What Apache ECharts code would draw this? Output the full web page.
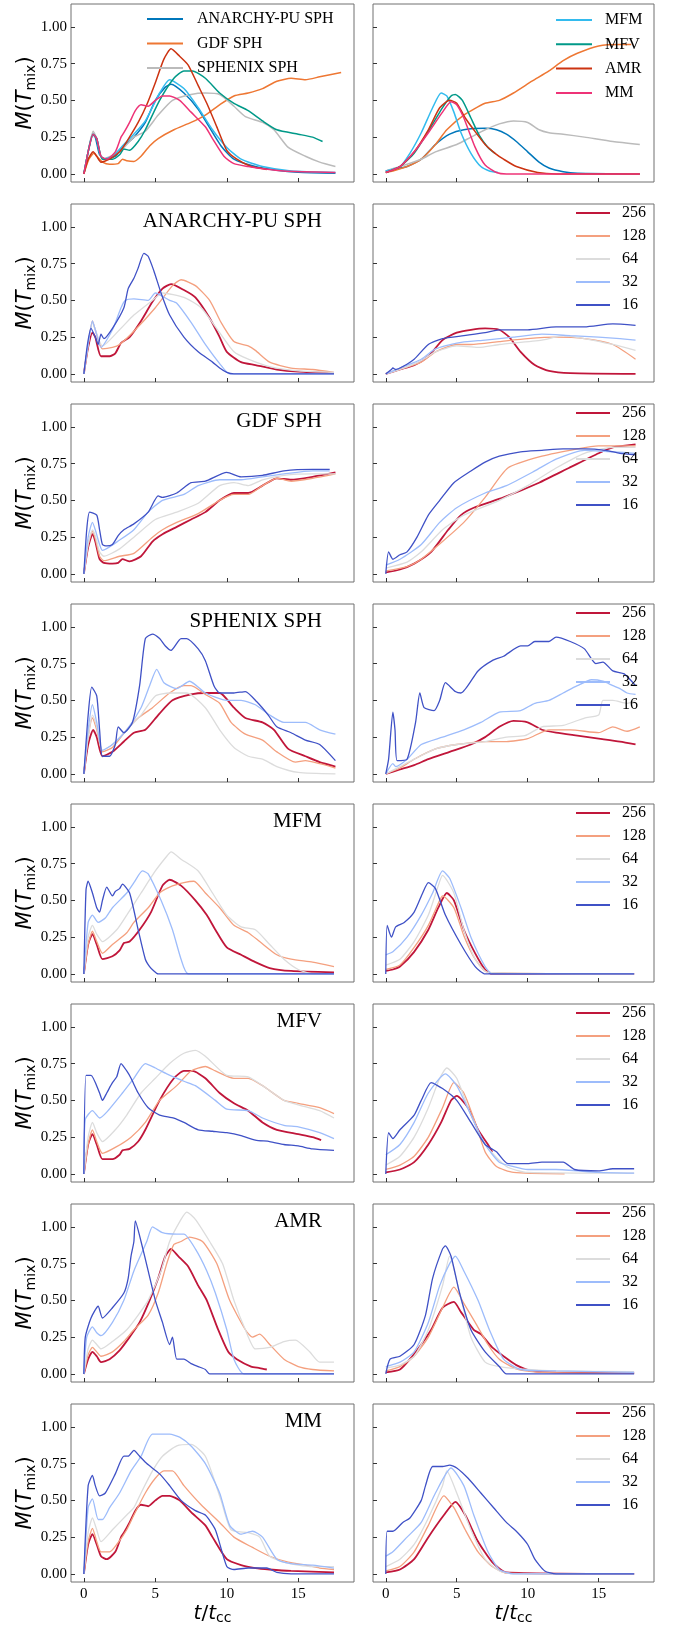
<!DOCTYPE html>
<html>
<head>
<meta charset="utf-8">
<title>M(T_mix) vs t/t_cc</title>
<script src="https://cdn.jsdelivr.net/npm/echarts@6.0.0/dist/echarts.min.js"></script>
<style>
    html, body { margin: 0; padding: 0; background: #fff; }
    #main { width: 676px; height: 1627px; }
</style>
</head>
<body>
<div id="main"></div>
<script>
// categories
const RES = ['256', '128', '64', '32', '16'];
const RES_COLORS = ['#c0163a', '#f4a07f', '#dcdcdc', '#9dbcfb', '#3f51c6'];
const CODES = ['ANARCHY-PU SPH', 'GDF SPH', 'SPHENIX SPH', 'MFM', 'MFV', 'AMR', 'MM'];
const CODE_COLORS = ['#0077bb', '#ee7733', '#bbbbbb', '#33bbee', '#009988', '#cc3311', '#ee3377'];
const X_TICKS = [0, 5, 10, 15];
const Y_TICKS = [0, 0.25, 0.5, 0.75, 1.0];

// row 1: all codes, order as CODES
const ALL_L = [
    [[0,0],[0.3,0.15],[0.6,0.27],[0.8,0.25],[1.1,0.13],[1.5,0.1],[2.2,0.12],[2.8,0.19],[3.5,0.25],[4.3,0.35],[5,0.5],[5.7,0.59],[6.1,0.61],[7,0.55],[8,0.44],[8.7,0.33],[9.6,0.19],[10.5,0.1],[12,0.05],[13.5,0.025],[15,0.012],[17.6,0.005]],
    [[0,0],[0.35,0.1],[0.7,0.14],[1.0,0.11],[1.3,0.08],[1.8,0.065],[2.4,0.07],[2.7,0.1],[3.0,0.09],[3.5,0.085],[4,0.12],[4.6,0.19],[5.2,0.24],[6.3,0.3],[7.5,0.35],[8.5,0.4],[9.5,0.47],[10.5,0.53],[11.5,0.55],[12.5,0.58],[13.5,0.63],[14.5,0.65],[15.5,0.64],[16.5,0.66],[18,0.69]],
    [[0,0],[0.3,0.15],[0.65,0.29],[0.9,0.24],[1.3,0.1],[2.5,0.15],[3.5,0.25],[4.3,0.29],[5.2,0.4],[6.2,0.5],[7.5,0.54],[8.5,0.55],[9.5,0.54],[10.5,0.46],[11.3,0.39],[12.5,0.35],[13.3,0.3],[14.3,0.18],[15.5,0.12],[16.5,0.08],[17.6,0.05]],
    [[0,0],[0.3,0.15],[0.65,0.27],[0.9,0.24],[1.3,0.1],[2,0.12],[2.8,0.2],[3.5,0.27],[4.3,0.36],[5.3,0.55],[6,0.64],[7,0.58],[8,0.45],[9,0.3],[10,0.18],[11,0.1],[12.5,0.05],[14.5,0.02],[17.6,0.01]],
    [[0,0],[0.3,0.15],[0.65,0.27],[0.9,0.24],[1.3,0.1],[2,0.1],[2.5,0.13],[2.8,0.17],[3.2,0.16],[3.8,0.22],[4.3,0.3],[5.3,0.5],[6.3,0.65],[7.0,0.7],[7.6,0.7],[8.5,0.65],[9.5,0.55],[10.5,0.48],[11.5,0.43],[12.5,0.36],[13.5,0.3],[15,0.27],[16,0.25],[16.7,0.22]],
    [[0,0],[0.3,0.1],[0.65,0.15],[0.9,0.12],[1.2,0.08],[1.8,0.1],[2.5,0.15],[3.0,0.22],[3.8,0.35],[4.4,0.47],[5.0,0.62],[5.6,0.78],[6.1,0.85],[6.7,0.8],[7.3,0.74],[8.0,0.6],[8.6,0.48],[9.3,0.32],[10.0,0.16],[10.7,0.1],[11.7,0.05],[12.3,0.04],[12.8,0.03]],
    [[0,0],[0.3,0.15],[0.65,0.27],[0.9,0.24],[1.2,0.12],[1.6,0.1],[2.2,0.15],[2.6,0.25],[2.8,0.28],[3.2,0.35],[3.6,0.43],[4.0,0.47],[4.5,0.46],[5,0.5],[5.5,0.53],[6.0,0.53],[6.7,0.5],[7.5,0.42],[8.5,0.32],[9.0,0.24],[9.8,0.12],[10.5,0.07],[11.5,0.05],[12.5,0.035],[14,0.02],[17.6,0.01]]
];
const ALL_R = [
    [[0,0.02],[0.5,0.03],[1.5,0.05],[2.5,0.1],[3.5,0.2],[4.5,0.27],[5.5,0.3],[7,0.31],[7.8,0.3],[8.5,0.27],[9.2,0.22],[10,0.15],[10.8,0.08],[11.5,0.04],[12.5,0.015],[13.5,0.005],[17.9,0.0]],
    [[0,0.01],[0.5,0.02],[1.5,0.05],[2.5,0.1],[3.5,0.2],[4.3,0.3],[5.5,0.4],[7,0.48],[8,0.5],[9,0.55],[10.3,0.63],[11.5,0.7],[12.5,0.77],[13.5,0.82],[15,0.87],[16.5,0.88],[17.3,0.88]],
    [[0,0.02],[1,0.05],[2.5,0.1],[3.5,0.15],[5,0.2],[6,0.25],[7,0.3],[8,0.34],[9,0.36],[10,0.35],[10.8,0.3],[11.5,0.28],[12.5,0.27],[14,0.25],[16,0.22],[17.9,0.2]],
    [[0,0.02],[1,0.05],[1.7,0.14],[2.5,0.28],[3.3,0.45],[3.9,0.55],[4.3,0.53],[4.8,0.42],[5.3,0.28],[6,0.14],[6.7,0.05],[7.3,0.02],[7.9,0.01]],
    [[0,0.01],[1,0.05],[2,0.14],[3,0.29],[4,0.45],[4.6,0.53],[4.9,0.54],[5.4,0.5],[6.0,0.38],[6.6,0.26],[7.2,0.18],[7.7,0.14]],
    [[0,0.01],[1,0.05],[2,0.15],[3,0.3],[3.8,0.45],[4.5,0.5],[5.0,0.48],[5.6,0.38],[6.2,0.3],[7.0,0.2],[7.7,0.14],[8.3,0.1],[9.2,0.05],[10.7,0.01],[12,0.0],[17.9,0.0]],
    [[0,0.01],[1,0.05],[2,0.15],[3,0.28],[4,0.42],[4.6,0.49],[5,0.47],[5.5,0.38],[6.3,0.18],[7,0.06],[7.8,0.01],[8.5,0.0],[17.9,0.0]]
];

// rows 2-8: resolutions, order as RES
const ANARCHY_L = [
    [[0,0],[0.3,0.18],[0.6,0.28],[0.8,0.25],[1.2,0.12],[1.8,0.12],[2.2,0.14],[2.6,0.21],[3.2,0.25],[4,0.36],[4.8,0.49],[5.5,0.58],[6.1,0.61],[7,0.57],[7.8,0.52],[8.8,0.38],[9.5,0.25],[10,0.15],[11,0.08],[12,0.06],[13.5,0.03],[15,0.015],[17.5,0.005]],
    [[0,0],[0.3,0.2],[0.6,0.36],[0.8,0.3],[1.3,0.17],[2,0.18],[2.5,0.2],[3.5,0.29],[5,0.45],[6.2,0.6],[6.8,0.64],[7.8,0.6],[8.8,0.5],[9.6,0.35],[10.5,0.22],[11.5,0.19],[12,0.16],[13,0.08],[14.5,0.04],[16,0.03],[17.5,0.01]],
    [[0,0],[0.3,0.2],[0.6,0.35],[0.8,0.3],[1.3,0.19],[2.5,0.3],[3.5,0.4],[4.8,0.5],[5.5,0.55],[7,0.52],[8.2,0.45],[9.5,0.28],[10.5,0.15],[11.5,0.1],[13,0.05],[15,0.02],[17.5,0.01]],
    [[0,0],[0.3,0.2],[0.6,0.36],[0.8,0.3],[1.2,0.18],[2,0.3],[2.6,0.45],[2.9,0.5],[3.5,0.51],[4.5,0.5],[5,0.55],[6,0.5],[6.5,0.48],[7.5,0.35],[8.5,0.2],[9.5,0.07],[10.2,0.0],[17.5,0.0]],
    [[0,0],[0.25,0.2],[0.5,0.31],[0.8,0.25],[1.0,0.2],[1.2,0.27],[1.4,0.24],[2,0.31],[2.8,0.45],[3.1,0.58],[3.5,0.65],[3.8,0.72],[4.2,0.82],[4.5,0.8],[4.9,0.7],[5.4,0.55],[6.0,0.4],[7.0,0.25],[8,0.15],[9,0.08],[9.5,0.04],[10,0.01],[10.5,0.0],[17.5,0.0]]
];
const ANARCHY_R = [
    [[0,0],[1,0.03],[2,0.06],[3,0.12],[4,0.23],[5,0.28],[6,0.3],[7,0.31],[8,0.3],[8.7,0.25],[9.5,0.15],[10.5,0.06],[11.5,0.02],[13,0.005],[17.6,0.0]],
    [[0,0],[1,0.03],[2.5,0.08],[3.5,0.15],[5,0.2],[6,0.2],[8,0.22],[10,0.24],[12,0.25],[14,0.24],[16,0.2],[17.6,0.1]],
    [[0,0],[1,0.03],[2.5,0.09],[3.5,0.15],[5,0.19],[6.5,0.18],[8,0.2],[11,0.23],[12.5,0.26],[14,0.24],[16,0.2],[17.6,0.16]],
    [[0,0],[1,0.04],[2.5,0.1],[3.5,0.17],[5,0.21],[7,0.23],[9,0.25],[11,0.27],[13,0.26],[15,0.25],[16.5,0.24],[17.6,0.23]],
    [[0,0],[0.4,0.03],[0.5,0.04],[0.7,0.03],[1.2,0.05],[2,0.1],[3,0.2],[4,0.24],[5.5,0.26],[7,0.28],[8,0.3],[10,0.3],[12,0.32],[14,0.32],[16,0.34],[17.6,0.33]]
];
const GDF_L = [
    [[0,0],[0.3,0.18],[0.6,0.27],[0.8,0.22],[1.1,0.1],[1.4,0.075],[2,0.07],[2.4,0.075],[2.7,0.1],[3.2,0.085],[4,0.12],[4.8,0.22],[5.5,0.27],[6.5,0.32],[7.5,0.37],[8.5,0.42],[9.5,0.5],[10.5,0.55],[11.5,0.55],[12.5,0.6],[13.5,0.65],[14.5,0.64],[16,0.66],[17.6,0.69]],
    [[0,0],[0.3,0.2],[0.6,0.29],[0.8,0.24],[1.1,0.12],[1.4,0.09],[2.5,0.12],[3.5,0.14],[4.8,0.25],[5.5,0.3],[6.5,0.35],[8,0.41],[9.5,0.5],[10.5,0.54],[11.5,0.54],[12.5,0.6],[13.5,0.65],[14.5,0.63],[16,0.65],[17.6,0.68]],
    [[0,0],[0.3,0.2],[0.6,0.3],[0.8,0.26],[1.1,0.15],[1.4,0.12],[2.5,0.17],[3.5,0.25],[5,0.37],[6.5,0.42],[8,0.48],[9.5,0.6],[10.5,0.62],[11.5,0.6],[12.5,0.64],[14,0.67],[16,0.68],[17.6,0.68]],
    [[0,0],[0.3,0.25],[0.6,0.35],[0.8,0.3],[1.1,0.2],[1.3,0.16],[2.5,0.23],[3.5,0.3],[4.5,0.42],[5.5,0.5],[7,0.54],[8,0.6],[9.5,0.64],[11,0.64],[12.5,0.66],[14,0.68],[16,0.7],[17.2,0.7]],
    [[0,0],[0.2,0.3],[0.4,0.42],[0.9,0.4],[1.1,0.3],[1.3,0.2],[1.6,0.19],[2.0,0.2],[2.4,0.26],[2.8,0.3],[3.5,0.34],[4.5,0.42],[5.2,0.53],[5.5,0.52],[6.5,0.55],[7.5,0.62],[8.5,0.63],[10,0.69],[11,0.66],[12.5,0.67],[14,0.7],[16,0.71],[17.2,0.71]]
];
const GDF_R = [
    [[0,0.01],[1,0.03],[2,0.07],[3.2,0.15],[4.4,0.3],[5.3,0.4],[6.2,0.45],[8.3,0.52],[10.8,0.62],[12.9,0.72],[15,0.82],[16,0.86],[17.6,0.88]],
    [[0,0.02],[1.5,0.05],[2.5,0.1],[4,0.22],[5.5,0.35],[7,0.52],[8.6,0.72],[11,0.8],[13.5,0.85],[15,0.87],[17.6,0.87]],
    [[0,0.04],[1.5,0.08],[2.5,0.15],[4,0.3],[5.5,0.4],[8,0.5],[10,0.6],[12,0.72],[14,0.82],[16,0.86],[17.6,0.86]],
    [[0,0.06],[1,0.1],[2.5,0.2],[3.8,0.35],[5,0.45],[7,0.55],[8.5,0.6],[10.5,0.7],[12,0.78],[14,0.84],[16,0.83],[17.6,0.82]],
    [[0,0.0],[0.2,0.15],[0.5,0.1],[1,0.13],[1.5,0.15],[2.2,0.25],[3,0.4],[3.8,0.5],[4.8,0.62],[6,0.7],[7,0.76],[8,0.8],[9.5,0.83],[11,0.84],[12.5,0.85],[14,0.85],[15.5,0.84],[16.5,0.82],[17.6,0.81]]
];
const SPHENIX_L = [
    [[0,0],[0.3,0.2],[0.65,0.3],[0.9,0.25],[1.3,0.12],[2,0.15],[2.8,0.22],[3.5,0.28],[4.3,0.3],[5.2,0.4],[6.2,0.5],[7.5,0.54],[8.5,0.55],[9.5,0.55],[10.5,0.45],[11.3,0.38],[12.5,0.35],[13.3,0.3],[14.3,0.17],[15.5,0.12],[16.5,0.08],[17.6,0.05]],
    [[0,0],[0.3,0.25],[0.6,0.38],[0.9,0.3],[1.3,0.15],[2,0.18],[3,0.3],[3.8,0.38],[4.8,0.45],[6,0.55],[7,0.6],[7.5,0.6],[8.5,0.54],[9.5,0.48],[10.3,0.35],[11.3,0.27],[12.5,0.23],[13.5,0.15],[14.8,0.08],[15.5,0.09],[16.5,0.07],[17.6,0.04]],
    [[0,0],[0.3,0.25],[0.6,0.4],[0.9,0.32],[1.3,0.16],[2,0.2],[3,0.3],[4,0.4],[5,0.53],[6,0.55],[7.2,0.55],[8.5,0.45],[9.5,0.3],[10.5,0.18],[11.5,0.12],[12.5,0.1],[13.5,0.05],[15,0.01],[17.6,0.0]],
    [[0,0],[0.3,0.3],[0.6,0.47],[0.9,0.35],[1.3,0.16],[2,0.2],[3,0.3],[4,0.45],[4.6,0.6],[5.1,0.71],[5.6,0.62],[6.5,0.58],[7.4,0.63],[8.5,0.55],[10,0.5],[11,0.5],[12,0.47],[13,0.4],[14,0.35],[15.5,0.35],[16.5,0.3],[17.6,0.27]],
    [[0,0],[0.3,0.4],[0.55,0.59],[0.9,0.53],[1.1,0.3],[1.3,0.12],[1.8,0.12],[2.2,0.2],[2.4,0.32],[2.8,0.28],[3.4,0.35],[3.9,0.6],[4.3,0.92],[4.8,0.95],[5.3,0.92],[5.7,0.87],[6.1,0.84],[6.8,0.92],[7.2,0.92],[8,0.85],[8.5,0.77],[9.1,0.6],[9.5,0.55],[10.5,0.55],[11.3,0.56],[12.1,0.49],[12.9,0.4],[13.5,0.32],[14.5,0.28],[15.5,0.23],[16.5,0.2],[17.6,0.09]]
];
const SPHENIX_R = [
    [[0,0],[1,0.03],[2,0.06],[3,0.1],[4.5,0.15],[6,0.2],[7,0.25],[8,0.32],[9,0.36],[10,0.35],[11,0.3],[12,0.28],[13.5,0.26],[15,0.24],[16.5,0.22],[17.6,0.2]],
    [[0,0],[1,0.04],[2,0.1],[3.5,0.17],[5,0.2],[7,0.22],[8.5,0.22],[10,0.24],[11.5,0.3],[13,0.3],[15,0.28],[16,0.32],[17,0.29],[17.9,0.32]],
    [[0,0],[1,0.05],[2,0.1],[3.5,0.17],[5,0.2],[7,0.22],[8.5,0.25],[9.8,0.26],[11,0.32],[12.5,0.33],[14,0.38],[15,0.4],[15.3,0.5],[16,0.5],[17,0.48],[17.6,0.5]],
    [[0,0],[0.5,0.07],[0.7,0.05],[1.5,0.1],[2.5,0.2],[4,0.25],[5.5,0.3],[6.7,0.35],[8,0.42],[9.5,0.43],[10.5,0.48],[11.5,0.5],[12.5,0.55],[13.5,0.6],[14.5,0.64],[15.3,0.63],[16,0.6],[16.5,0.58],[17,0.55],[17.6,0.54]],
    [[0,0],[0.2,0.1],[0.5,0.42],[0.65,0.3],[0.8,0.09],[1.5,0.1],[2.1,0.35],[2.4,0.55],[2.7,0.45],[3.4,0.43],[3.8,0.5],[4.2,0.62],[4.9,0.56],[5.3,0.55],[6.5,0.7],[7.5,0.77],[8.3,0.8],[9.5,0.87],[10,0.87],[10.5,0.9],[11.5,0.9],[12,0.93],[13,0.9],[14,0.85],[14.8,0.75],[15.3,0.76],[16,0.7],[16.8,0.68],[17.6,0.6]]
];
const MFM_L = [
    [[0,0],[0.3,0.2],[0.6,0.27],[0.9,0.2],[1.3,0.1],[2,0.12],[2.5,0.16],[2.8,0.21],[3.2,0.22],[3.9,0.3],[4.7,0.42],[5.5,0.6],[6,0.64],[6.8,0.6],[7.8,0.5],[8.6,0.4],[9.2,0.3],[10,0.18],[11,0.13],[12,0.08],[13,0.04],[14.5,0.02],[17.5,0.01]],
    [[0,0],[0.3,0.2],[0.6,0.29],[0.9,0.22],[1.3,0.14],[2,0.2],[3,0.28],[3.5,0.35],[4.5,0.45],[5.3,0.55],[6,0.59],[7,0.62],[7.7,0.63],[8.5,0.55],[9.5,0.45],[10.5,0.33],[11.5,0.28],[12.3,0.22],[13.5,0.13],[14.5,0.1],[16,0.08],[17.5,0.05]],
    [[0,0],[0.3,0.25],[0.6,0.33],[0.9,0.27],[1.3,0.22],[2.3,0.3],[3,0.4],[4,0.55],[5,0.7],[5.8,0.8],[6.1,0.83],[6.8,0.78],[8,0.7],[9,0.55],[10,0.4],[11,0.32],[12,0.3],[13,0.2],[14,0.1],[15,0.03],[16,0.0],[17.5,0.0]],
    [[0,0],[0.3,0.35],[0.6,0.4],[1,0.35],[1.5,0.38],[2,0.45],[3,0.55],[3.5,0.62],[4.1,0.7],[4.5,0.68],[5.4,0.5],[6.2,0.3],[6.8,0.1],[7.3,0.0],[17.5,0.0]],
    [[0,0],[0.15,0.57],[0.3,0.63],[0.6,0.55],[0.9,0.45],[1.1,0.42],[1.3,0.5],[1.6,0.59],[2.0,0.53],[2.2,0.56],[2.5,0.58],[2.7,0.61],[3.2,0.55],[3.8,0.3],[4.3,0.1],[4.6,0.05],[4.9,0.02],[5.2,0.0],[17.5,0.0]]
];
const MFM_R = [
    [[0,0.02],[0.5,0.03],[1,0.05],[2,0.15],[3,0.3],[3.7,0.45],[4.3,0.55],[4.8,0.5],[5.5,0.3],[6.3,0.14],[7,0.03],[7.5,0.0],[17.5,0.0]],
    [[0,0.03],[1,0.06],[2,0.18],[3,0.33],[3.8,0.5],[4.0,0.53],[4.8,0.45],[5.5,0.26],[6.3,0.1],[7.2,0.01],[17.5,0.0]],
    [[0,0.06],[1,0.1],[2,0.22],[3,0.4],[3.7,0.6],[4.0,0.67],[4.8,0.55],[5.5,0.3],[6.3,0.1],[7.2,0.01],[17.5,0.0]],
    [[0,0.13],[0.5,0.15],[1.5,0.25],[2.5,0.4],[3.3,0.55],[4.0,0.7],[4.5,0.65],[5.3,0.45],[6,0.25],[7,0.05],[7.5,0.0],[17.5,0.0]],
    [[0,0.0],[0.1,0.33],[0.4,0.25],[0.7,0.32],[1.3,0.35],[2,0.42],[2.6,0.55],[3,0.62],[3.5,0.58],[4.2,0.4],[5.3,0.2],[6.3,0.05],[7,0.0],[17.5,0.0]]
];
const MFV_L = [
    [[0,0],[0.3,0.2],[0.6,0.27],[0.9,0.2],[1.3,0.1],[2,0.1],[2.5,0.13],[2.7,0.16],[3.2,0.17],[3.8,0.22],[4.3,0.3],[5.3,0.5],[6.3,0.65],[7,0.7],[7.6,0.7],[8.5,0.65],[9.5,0.55],[10.5,0.48],[11.5,0.43],[12.5,0.35],[13.5,0.3],[15,0.27],[16,0.25],[16.6,0.23]],
    [[0,0],[0.3,0.2],[0.6,0.3],[0.9,0.22],[1.3,0.14],[2.2,0.18],[3.3,0.25],[4.3,0.35],[5.3,0.5],[6.5,0.6],[7.5,0.7],[8.5,0.73],[9.2,0.7],[10.5,0.65],[11.5,0.65],[12.5,0.6],[14,0.5],[15,0.48],[16.5,0.45],[17.5,0.41]],
    [[0,0],[0.3,0.25],[0.6,0.35],[0.9,0.28],[1.3,0.22],[2.2,0.3],[3,0.4],[4,0.55],[5,0.65],[6,0.75],[7,0.82],[7.8,0.84],[8.5,0.8],[10,0.67],[11.5,0.66],[12.5,0.6],[14,0.5],[15,0.47],[16.5,0.43],[17.5,0.38]],
    [[0,0],[0.1,0.37],[0.6,0.43],[1.1,0.38],[1.6,0.42],[2.7,0.55],[3.5,0.65],[4.3,0.75],[5,0.72],[5.8,0.68],[7,0.63],[7.8,0.6],[9.2,0.5],[10,0.44],[11.5,0.43],[12.5,0.38],[14,0.33],[15,0.32],[16.5,0.28],[17.5,0.24]],
    [[0,0],[0.15,0.67],[0.5,0.67],[1.1,0.55],[1.3,0.5],[1.6,0.55],[2,0.62],[2.3,0.66],[2.6,0.75],[3.0,0.7],[3.3,0.65],[3.8,0.55],[4.5,0.45],[5.3,0.4],[6.3,0.38],[7,0.35],[8,0.3],[9,0.29],[10,0.28],[11,0.26],[12,0.23],[13,0.22],[14,0.2],[15,0.19],[16,0.17],[17.5,0.16]]
];
const MFV_R = [
    [[0,0.01],[1,0.03],[2,0.08],[3,0.2],[3.9,0.35],[4.6,0.5],[5.0,0.53],[5.8,0.45],[6.5,0.3],[7.2,0.2],[7.5,0.15]],
    [[0,0.03],[1,0.06],[2,0.12],[3,0.25],[4,0.45],[4.8,0.62],[5.5,0.55],[6.3,0.35],[7,0.15],[7.8,0.05],[9,0.01],[12.6,0.0]],
    [[0,0.06],[1,0.12],[2,0.25],[3,0.45],[3.8,0.65],[4.3,0.72],[5,0.65],[6,0.4],[7,0.2],[8.5,0.05],[10,0.01],[17.5,0.005]],
    [[0,0.13],[1,0.2],[2,0.35],[3,0.55],[4.2,0.68],[5.0,0.6],[6,0.4],[7,0.2],[8,0.08],[9,0.05],[10,0.03],[12,0.03],[15,0.01],[17.5,0.005]],
    [[0,0.0],[0.2,0.28],[0.5,0.24],[1,0.3],[2,0.4],[2.5,0.5],[3.2,0.62],[4.0,0.58],[5.0,0.5],[6,0.35],[7,0.2],[7.8,0.15],[8.6,0.07],[10,0.07],[11,0.08],[12.5,0.08],[13.3,0.03],[15,0.02],[16,0.035],[17.5,0.035]]
];
const AMR_L = [
    [[0,0],[0.3,0.1],[0.6,0.15],[0.9,0.12],[1.2,0.08],[1.8,0.1],[2.5,0.16],[3.2,0.25],[3.9,0.35],[4.6,0.5],[5.2,0.65],[5.7,0.8],[6.1,0.85],[6.6,0.8],[7.3,0.73],[8,0.6],[8.6,0.5],[9.4,0.3],[10.1,0.15],[10.7,0.1],[11.7,0.05],[12.3,0.04],[12.8,0.03]],
    [[0,0],[0.3,0.13],[0.6,0.18],[0.9,0.15],[1.2,0.12],[2,0.15],[2.8,0.22],[3.5,0.3],[4.5,0.4],[5.2,0.55],[5.8,0.75],[6.3,0.88],[6.8,0.9],[7.4,0.93],[8.3,0.9],[9.3,0.75],[10.2,0.5],[11.3,0.3],[11.8,0.25],[12.3,0.27],[13,0.2],[14,0.1],[15,0.05],[16,0.03],[17.5,0.02]],
    [[0,0],[0.3,0.17],[0.6,0.23],[0.9,0.2],[1.2,0.17],[2,0.22],[3,0.3],[3.8,0.4],[4.5,0.5],[5.4,0.7],[6,0.9],[6.8,1.05],[7.2,1.1],[7.8,1.05],[8.8,0.9],[9.7,0.75],[10.5,0.5],[11.3,0.3],[12,0.17],[13,0.18],[14,0.22],[14.8,0.23],[15.8,0.15],[16.5,0.08],[17.5,0.08]],
    [[0,0],[0.2,0.25],[0.6,0.32],[0.9,0.28],[1.2,0.26],[2,0.35],[2.8,0.5],[3.5,0.7],[4.4,0.9],[4.8,1.0],[5.5,0.96],[6.5,0.95],[7,0.95],[7.8,0.85],[8.6,0.7],[9.2,0.55],[10,0.3],[10.5,0.1],[11.2,0.0],[17.5,0.0]],
    [[0,0],[0.1,0.25],[0.5,0.38],[1.0,0.46],[1.3,0.38],[2.0,0.45],[2.8,0.55],[3.1,0.65],[3.3,0.8],[3.5,0.9],[3.6,1.04],[4.0,0.9],[4.5,0.7],[5.0,0.5],[5.5,0.35],[6.0,0.2],[6.2,0.25],[6.5,0.1],[7,0.1],[7.5,0.07],[8,0.05],[8.5,0.03],[8.8,0.0],[17.5,0.0]]
];
const AMR_R = [
    [[0,0.01],[1,0.03],[1.7,0.1],[2.5,0.2],[3.2,0.3],[4.0,0.45],[4.8,0.49],[5.3,0.42],[6.2,0.3],[6.7,0.27],[7.5,0.18],[8.3,0.12],[9.2,0.06],[10.3,0.02],[12,0.01],[17.5,0.005]],
    [[0,0.02],[1,0.05],[2,0.12],[3,0.25],[4,0.45],[4.8,0.59],[5.5,0.48],[6.3,0.35],[7.2,0.2],[8,0.1],[9.3,0.03],[11,0.01],[17.5,0.005]],
    [[0,0.04],[1,0.06],[2,0.12],[3,0.3],[4,0.6],[4.5,0.8],[5.2,0.55],[6,0.25],[7,0.08],[8,0.05],[10,0.03],[12,0.02],[17.5,0.015]],
    [[0,0.05],[1,0.08],[2,0.15],[3,0.35],[3.8,0.6],[4.5,0.75],[4.9,0.8],[5.5,0.7],[6.5,0.5],[7.3,0.3],[8.3,0.1],[9.5,0.03],[12,0.02],[17.5,0.01]],
    [[0,0.0],[0.3,0.1],[1,0.12],[2,0.2],[2.8,0.4],[3.3,0.65],[4.0,0.85],[4.2,0.87],[4.6,0.8],[5.2,0.55],[6,0.3],[7,0.15],[8,0.05],[8.5,0.0],[17.5,0.0]]
];
const MM_L = [
    [[0,0],[0.3,0.2],[0.6,0.27],[0.9,0.2],[1.2,0.12],[1.6,0.1],[2.2,0.15],[2.6,0.25],[2.8,0.28],[3.2,0.35],[3.6,0.43],[4,0.47],[4.5,0.46],[5,0.5],[5.5,0.53],[6.0,0.53],[6.7,0.5],[7.5,0.42],[8.5,0.33],[9,0.25],[10,0.1],[11,0.06],[12,0.04],[13,0.03],[14.5,0.02],[17.5,0.01]],
    [[0,0],[0.3,0.22],[0.6,0.31],[0.9,0.22],[1.2,0.15],[1.8,0.15],[2.3,0.2],[3,0.3],[3.5,0.4],[4.3,0.55],[5.0,0.65],[5.6,0.7],[6.2,0.7],[7,0.6],[8.2,0.47],[9.5,0.35],[10.5,0.25],[11.8,0.18],[13,0.12],[14.3,0.08],[15.5,0.06],[16.5,0.04],[17.5,0.03]],
    [[0,0],[0.3,0.28],[0.6,0.38],[0.9,0.3],[1.2,0.22],[2,0.3],[3,0.4],[3.5,0.45],[4.0,0.55],[4.8,0.7],[5.5,0.8],[6.5,0.87],[7.5,0.88],[8.5,0.8],[9.6,0.5],[10.3,0.3],[11.5,0.28],[12.3,0.25],[13,0.12],[14,0.08],[15,0.06],[16,0.05],[17.5,0.05]],
    [[0,0],[0.3,0.45],[0.6,0.51],[1.0,0.37],[1.3,0.37],[1.8,0.45],[2.5,0.55],[3.3,0.7],[4,0.8],[4.8,0.95],[6,0.95],[6.7,0.93],[7.5,0.87],[8.5,0.75],[9.5,0.55],[10.2,0.33],[11.0,0.27],[11.8,0.29],[12.5,0.25],[13.5,0.1],[14.5,0.07],[16,0.06],[17.5,0.04]],
    [[0,0],[0.3,0.6],[0.6,0.67],[0.8,0.6],[1.1,0.53],[1.5,0.55],[2.2,0.68],[2.8,0.8],[3.1,0.8],[3.5,0.84],[3.9,0.8],[4.4,0.75],[5.3,0.68],[6.0,0.6],[6.8,0.5],[7.8,0.43],[8.5,0.4],[9.2,0.3],[10.0,0.05],[10.5,0.03],[11.5,0.04],[12.8,0.04],[13.5,0.01],[14.5,0.0],[17.5,0.0]]
];
const MM_R = [
    [[0,0.01],[1,0.03],[2,0.1],[3,0.25],[4.1,0.4],[4.9,0.49],[5.6,0.4],[6.5,0.22],[7.5,0.08],[8.5,0.01],[17.5,0.0]],
    [[0,0.02],[1,0.05],[2,0.15],[3,0.33],[4.1,0.53],[4.8,0.45],[5.6,0.3],[6.5,0.15],[7.5,0.05],[8.5,0.005],[17.5,0.0]],
    [[0,0.05],[1,0.1],[2,0.2],[3,0.38],[4,0.6],[4.3,0.7],[5,0.55],[6,0.3],[7,0.1],[8,0.02],[9,0.0],[17.5,0.0]],
    [[0,0.12],[0.5,0.15],[1.5,0.25],[2.5,0.35],[3.5,0.55],[4.6,0.72],[5.5,0.6],[6.2,0.4],[7.2,0.15],[8,0.03],[9,0.0],[17.5,0.0]],
    [[0,0.0],[0.1,0.29],[0.5,0.29],[1.2,0.35],[1.7,0.38],[2.5,0.5],[2.8,0.6],[3.3,0.73],[4.0,0.73],[4.5,0.74],[5,0.72],[5.8,0.65],[6.7,0.55],[7.6,0.45],[8.5,0.35],[9.3,0.28],[10,0.2],[10.5,0.1],[11.2,0.02],[12,0.0],[17.5,0.0]]
];

const RES_ROWS = [
    ['ANARCHY-PU SPH', ANARCHY_L, ANARCHY_R],
    ['GDF SPH', GDF_L, GDF_R],
    ['SPHENIX SPH', SPHENIX_L, SPHENIX_R],
    ['MFM', MFM_L, MFM_R],
    ['MFV', MFV_L, MFV_R],
    ['AMR', AMR_L, AMR_R],
    ['MM', MM_L, MM_R]
];

const SERIF = 'Liberation Serif';
const MATH = 'DejaVu Sans';

const grids = [], xAxes = [], yAxes = [], series = [], legends = [], titles = [];

function rowTop(row) {
    return 4 + 200 * row;
}

function addPanel(row, col, lines, names, colors, widths) {
    const idx = grids.length;
    const bottomRow = row === 7;
    grids.push({
        left: col === 0 ? 71 : 373,
        top: rowTop(row),
        width: col === 0 ? 283 : 281,
        height: 178,
        show: true,
        borderColor: '#707070',
        borderWidth: 1,
        outerBoundsMode: 'none'
    });
    xAxes.push({
        type: 'value',
        gridIndex: idx,
        min: -0.9,
        max: 18.9,
        axisLine: { show: false, onZero: false },
        splitLine: { show: false },
        axisTick: { show: true, inside: true, length: 4, lineStyle: { color: '#333' }, customValues: X_TICKS },
        axisLabel: {
            show: bottomRow,
            customValues: X_TICKS,
            color: '#000',
            fontFamily: SERIF,
            fontSize: 15,
            margin: 5
        },
        name: bottomRow ? '{i|t}{r|/}{i|t}{s|cc}' : '',
        nameLocation: 'middle',
        nameGap: 20,
        nameTextStyle: {
            color: '#000',
            rich: {
                i: { fontFamily: MATH, fontStyle: 'italic', fontSize: 20, color: '#000' },
                r: { fontFamily: MATH, fontSize: 20, color: '#000' },
                s: { fontFamily: MATH, fontSize: 14, color: '#000', verticalAlign: 'bottom', padding: [9, 0, 0, 0] }
            }
        }
    });
    yAxes.push({
        type: 'value',
        gridIndex: idx,
        min: -0.055,
        max: 1.155,
        axisLine: { show: false, onZero: false },
        splitLine: { show: false },
        axisTick: { show: true, inside: true, length: 4, lineStyle: { color: '#333' }, customValues: Y_TICKS },
        axisLabel: {
            show: col === 0,
            customValues: Y_TICKS,
            formatter: v => v.toFixed(2),
            color: '#000',
            fontFamily: SERIF,
            fontSize: 15,
            margin: 4
        },
        name: col === 0 ? '{i|M}{r|(}{i|T}{s|mix}{r|)}' : '',
        nameLocation: 'middle',
        nameRotate: 90,
        nameGap: 33,
        nameMoveOverlap: false,
        nameTextStyle: {
            color: '#000',
            rich: {
                i: { fontFamily: MATH, fontStyle: 'italic', fontSize: 21, color: '#000' },
                r: { fontFamily: MATH, fontSize: 21, color: '#000' },
                s: { fontFamily: MATH, fontSize: 14, color: '#000', verticalAlign: 'bottom', padding: [10, 0, 0, 0] }
            }
        }
    });
    lines.forEach((data, k) => {
        series.push({
            type: 'line',
            name: names[k],
            xAxisIndex: idx,
            yAxisIndex: idx,
            data: data,
            symbol: 'none',
            showSymbol: false,
            smooth: 0.2,
            color: colors[k],
            lineStyle: { width: widths[k], color: colors[k] },
            emphasis: { disabled: true }
        });
    });
}

function addLegend(names, left, top, itemWidth, gap, textPad) {
    legends.push({
        data: names,
        orient: 'vertical',
        left: left,
        top: top,
        padding: 0,
        itemWidth: itemWidth,
        itemHeight: 2,
        itemGap: gap,
        icon: 'rect',
        selectedMode: false,
        textStyle: { color: '#000', fontFamily: SERIF, fontSize: 16, padding: [0, 0, 0, textPad] }
    });
}

// row 1: all codes
const codeWidths = CODES.map(() => 1.5);
addPanel(0, 0, ALL_L, CODES, CODE_COLORS, codeWidths);
addPanel(0, 1, ALL_R, CODES, CODE_COLORS, codeWidths);
addLegend(CODES.slice(0, 3), 147, 11, 36, 8.5, 9);
addLegend(CODES.slice(3), 556, 12, 36, 8.3, 8);

// rows 2-8: resolutions
const resWidths = [1.8, 1.3, 1.3, 1.3, 1.3];
RES_ROWS.forEach((r, i) => {
    const row = i + 1;
    addPanel(row, 0, r[1], RES, RES_COLORS, resWidths);
    addPanel(row, 1, r[2], RES, RES_COLORS, resWidths);
    addLegend(RES, 576, rowTop(row) + 1, 34, 7, 7);
    titles.push({
        text: r[0],
        right: 354,
        top: rowTop(row) + 7,
        padding: 0,
        textStyle: { color: '#000', fontFamily: SERIF, fontSize: 21, fontWeight: 'normal' }
    });
});

const chart = echarts.init(document.getElementById('main'), null, { renderer: 'canvas' });
chart.setOption({
    animation: false,
    backgroundColor: '#fff',
    title: titles,
    legend: legends,
    grid: grids,
    xAxis: xAxes,
    yAxis: yAxes,
    series: series
});
</script>
</body>
</html>
